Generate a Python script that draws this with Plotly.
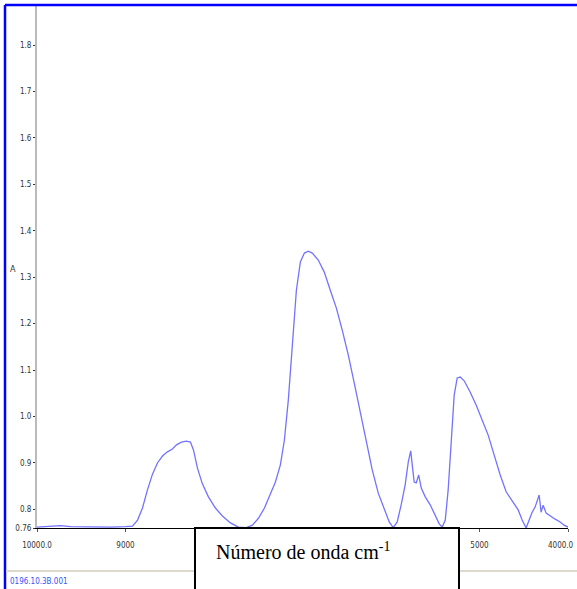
import plotly.graph_objects as go

W, H = 577, 589

wavenumber = [10000, 9846, 9734, 9621, 9395, 9169, 9000, 8921, 8864, 8808, 8752, 8695, 8639, 8582,
              8526, 8470, 8424, 8368, 8312, 8266, 8232, 8187, 8131, 8063, 7984, 7905, 7814, 7724,
              7634, 7566, 7498, 7430, 7363, 7306, 7250, 7205, 7160, 7114, 7069, 7024, 6979, 6934,
              6889, 6822, 6754, 6686, 6618, 6551, 6483, 6415, 6348, 6280, 6212, 6144, 6077, 6020,
              5975, 5930, 5885, 5840, 5805, 5777, 5760, 5738, 5715, 5687, 5658, 5613, 5557, 5500,
              5455, 5421, 5387, 5354, 5320, 5286, 5252, 5218, 5173, 5106, 5038, 4970, 4902, 4834,
              4766, 4699, 4653, 4608, 4563, 4518, 4473, 4439, 4405, 4372, 4326, 4304, 4281, 4247,
              4202, 4145, 4089, 4044, 4000]
absorbance = [0.762, 0.764, 0.765, 0.763, 0.762, 0.762, 0.763, 0.764, 0.777, 0.803, 0.842, 0.876, 0.900, 0.915,
              0.924, 0.930, 0.939, 0.945, 0.947, 0.945, 0.928, 0.889, 0.855, 0.827, 0.803, 0.786, 0.771, 0.762,
              0.761, 0.766, 0.781, 0.803, 0.833, 0.859, 0.896, 0.949, 1.036, 1.165, 1.272, 1.333, 1.352, 1.356,
              1.352, 1.337, 1.311, 1.272, 1.234, 1.186, 1.133, 1.072, 1.010, 0.945, 0.885, 0.835, 0.799, 0.773,
              0.761, 0.773, 0.810, 0.853, 0.902, 0.926, 0.896, 0.859, 0.857, 0.874, 0.846, 0.827, 0.810, 0.788,
              0.769, 0.762, 0.777, 0.842, 0.949, 1.046, 1.083, 1.085, 1.077, 1.053, 1.025, 0.993, 0.960, 0.917,
              0.874, 0.838, 0.825, 0.814, 0.799, 0.777, 0.760, 0.777, 0.794, 0.805, 0.831, 0.794, 0.809, 0.792,
              0.786, 0.779, 0.773, 0.766, 0.762]

y_tickvals = [0.76, 0.8, 0.9, 1.0, 1.1, 1.2, 1.3, 1.4, 1.5, 1.6, 1.7, 1.8]
y_ticktext = ["0.76", "0.8", "0.9", "1.0", "1.1", "1.2", "1.3", "1.4", "1.5", "1.6", "1.7", "1.8"]
x_tickvals = [10000, 9000, 5000, 4000]
x_ticktext = ["10000.0", "9000", "5000", ""]
x_last_label = "4000.0"

tickfont = dict(family="Liberation Sans Narrow, DejaVu Sans Condensed, Arial Narrow, sans-serif",
                size=8, color="#333333")

def px(x):
    return x / W

def py(y):
    return 1 - y / H

fig = go.Figure()
fig.add_trace(go.Scatter(x=wavenumber, y=absorbance, mode="lines",
                         line=dict(color="rgb(115,115,255)", width=1.3),
                         hoverinfo="skip", showlegend=False))

fig.update_layout(
    width=W, height=H,
    margin=dict(l=0, r=0, t=0, b=0, autoexpand=False),
    paper_bgcolor="white", plot_bgcolor="white",
    xaxis=dict(domain=[px(37), px(568)], range=[10000, 4000], tickvals=x_tickvals,
               ticktext=x_ticktext, showgrid=False, zeroline=False, showline=True,
               linecolor="black", linewidth=1, ticks="outside", ticklen=3, tickcolor="#555",
               tickfont=tickfont, ticklabelstandoff=6, automargin=False),
    yaxis=dict(domain=[py(528), py(6)], range=[0.76, 1.884], tickvals=y_tickvals,
               ticktext=y_ticktext, showgrid=False, zeroline=False, showline=True,
               linecolor="#bbbbbb", linewidth=2, ticks="outside", ticklen=2, tickcolor="#333",
               tickfont=tickfont, automargin=False),
    shapes=[
        dict(type="line", xref="paper", yref="paper", x0=px(5), x1=1, y0=py(5), y1=py(5),
             line=dict(color="#0000ff", width=2.5), layer="above"),
        dict(type="line", xref="paper", yref="paper", x0=px(5), x1=px(5), y0=py(5), y1=0,
             line=dict(color="#0000ff", width=2.5), layer="above"),
        dict(type="line", xref="paper", yref="paper", x0=px(6), x1=1, y0=py(571), y1=py(571),
             line=dict(color="#ddd9cc", width=2), layer="above"),
        dict(type="rect", xref="paper", yref="paper", x0=px(195), x1=px(459), y0=py(592), y1=py(528),
             line=dict(color="black", width=2), fillcolor="white", layer="above"),
    ],
    annotations=[
        dict(text=x_last_label, xref="paper", yref="paper", x=px(576), y=py(545), xanchor="right",
             yanchor="middle", showarrow=False, font=tickfont),
        dict(text="Número de onda cm<sup>-1</sup>", xref="paper", yref="paper",
             x=px(214), y=py(551), xanchor="left", yanchor="middle", showarrow=False,
             font=dict(family="Liberation Serif, Times New Roman, serif", size=20, color="black")),
        dict(text="A", xref="paper", yref="paper", x=px(13), y=py(269), xanchor="center",
             yanchor="middle", showarrow=False,
             font=dict(family="Liberation Sans Narrow, DejaVu Sans Condensed, sans-serif", size=9, color="#333")),
        dict(text="0196.10.3B.001", xref="paper", yref="paper", x=px(8), y=py(581),
             xanchor="left", yanchor="middle", showarrow=False,
             font=dict(family="Liberation Sans Narrow, DejaVu Sans Condensed, sans-serif", size=8, color="#3355ff")),
    ],
)

fig.write_html("out.html", config={"displayModeBar": False})
